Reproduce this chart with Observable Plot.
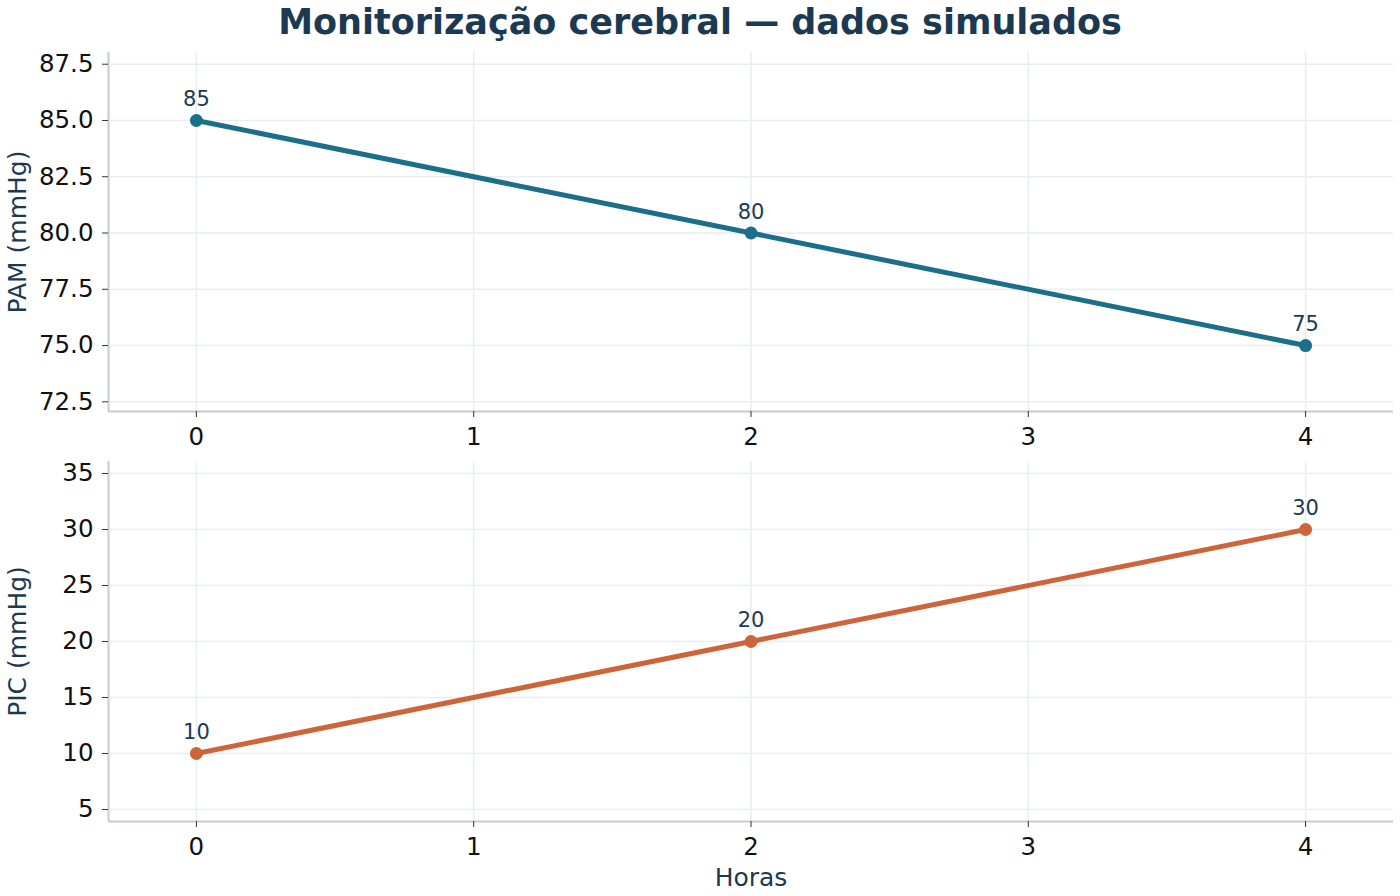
<!DOCTYPE html>
<html><head><meta charset="utf-8">
<script src="https://cdn.jsdelivr.net/npm/d3@7"></script>
<script src="https://cdn.jsdelivr.net/npm/@observablehq/plot@0.6"></script>
<style>
body{margin:0;background:#fff;font-family:"DejaVu Sans",sans-serif;}
#root{position:relative;width:1400px;height:896px;overflow:hidden;}
#title{position:absolute;left:0;width:1400px;top:2px;text-align:center;font-weight:bold;font-size:35px;color:#1b3a52;line-height:40px;}
.panel{position:absolute;left:0;}
.panel svg{background:transparent;overflow:visible;}
</style>
</head><body>
<div id="root">
<div id="title">Monitorização cerebral — dados simulados</div>
<div id="p1" class="panel" style="top:40px"></div>
<div id="p2" class="panel" style="top:450px"></div>
</div>
<script>
const hours = [0, 2, 4];
const pam = [85, 80, 75];
const pic = [10, 20, 30];
const xTicks = [0, 1, 2, 3, 4];
const pamTicks = [72.5, 75, 77.5, 80, 82.5, 85, 87.5];
const picTicks = [5, 10, 15, 20, 25, 30, 35];

const navy = "#1b3a52";
const spine = "#c2ccd4";
const gridC = "#e9edf1";
const xDomain = [-0.317, 4.317];

function panel(values, color, yDomain, yTicks, yLabel, fmt, height, mTop, mBottom, xLabel) {
  const data = hours.map((h, i) => ({h, v: values[i]}));
  const marks = [
    Plot.gridX(xTicks, {stroke: gridC, strokeOpacity: 1, strokeWidth: 1.5}),
    Plot.gridY(yTicks, {stroke: gridC, strokeOpacity: 1, strokeWidth: 1.5}),
    Plot.ruleX([xDomain[0]], {stroke: spine, strokeWidth: 2}),
    Plot.ruleY([yDomain[0]], {stroke: spine, strokeWidth: 2}),
    Plot.axisX(xTicks, {tickSize: 6, tickPadding: 10, fontSize: 24.5, stroke: "#333", fill: "#111", tickFormat: d => String(d), label: xLabel, labelAnchor: "center", labelOffset: 64, labelArrow: "none"}),
    Plot.axisY(yTicks, {tickSize: 6, tickPadding: 9, fontSize: 24.5, stroke: "#333", fill: "#111", tickFormat: fmt, label: yLabel, labelAnchor: "center", labelOffset: 100, labelArrow: "none"}),
    Plot.line(data, {x: "h", y: "v", stroke: color, strokeWidth: 5}),
    Plot.dot(data, {x: "h", y: "v", fill: color, r: 6.5}),
    Plot.text(data, {x: "h", y: "v", text: d => String(d.v), dy: -21, fontSize: 21, fill: navy})
  ];
  return Plot.plot({
    width: 1400, height,
    marginLeft: 108, marginRight: 7, marginTop: mTop, marginBottom: mBottom,
    style: {fontFamily: "DejaVu Sans", background: "transparent", overflow: "visible"},
    x: {domain: xDomain},
    y: {domain: yDomain},
    marks
  });
}

const s1 = panel(pam, "#1b6f8a", [72.07, 88.02], pamTicks, "PAM (mmHg)", d => d.toFixed(1), 410, 12, 39, null);
const s2 = panel(pic, "#cd643a", [3.93, 36.07], picTicks, "PIC (mmHg)", d => String(d), 446, 11, 75, "Horas");
document.getElementById("p1").appendChild(s1);
document.getElementById("p2").appendChild(s2);
for (const s of [s1, s2]) {
  s.querySelectorAll('g[aria-label="y-axis label"] text, g[aria-label="x-axis label"] text').forEach(t => {
    t.setAttribute("fill", navy);
    t.setAttribute("font-size", "25");
  });
}
</script>
</body></html>
